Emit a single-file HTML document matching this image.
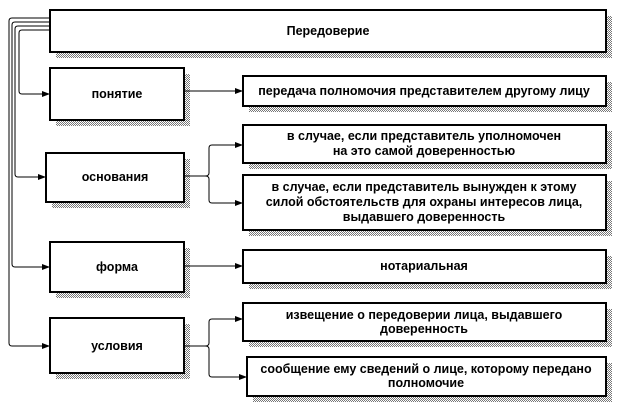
<!DOCTYPE html>
<html><head><meta charset="utf-8"><style>
html,body{margin:0;padding:0;background:#fff;width:624px;height:410px;overflow:hidden}
svg{display:block}
text{font-family:"Liberation Sans",Arial,sans-serif;font-weight:bold;font-size:12.5px;fill:#000;text-anchor:middle}
</style></head><body>
<svg width="624" height="410" viewBox="0 0 624 410" xmlns="http://www.w3.org/2000/svg">
<defs>
<pattern id="h" width="2" height="2" patternUnits="userSpaceOnUse"><rect width="2" height="2" fill="#fff"/><rect width="1" height="1" fill="#777"/><rect x="1" y="1" width="1" height="1" fill="#777"/></pattern>
<marker id="a" markerWidth="8" markerHeight="6" refX="8" refY="3" orient="auto" markerUnits="userSpaceOnUse"><path d="M0,0 L8,3 L0,6z" fill="#000"/></marker>
</defs>
<g fill="url(#h)">
<rect x="56" y="16" width="556" height="42"/>
<rect x="56" y="74" width="134" height="52"/>
<rect x="249" y="82" width="363" height="30"/>
<rect x="52" y="159" width="138" height="49"/>
<rect x="249" y="131" width="363" height="38"/>
<rect x="249" y="181" width="363" height="55"/>
<rect x="56" y="248" width="134" height="50"/>
<rect x="249" y="256" width="363" height="33"/>
<rect x="56" y="324" width="134" height="55"/>
<rect x="249" y="309" width="363" height="38"/>
<rect x="253" y="363" width="359" height="39"/>
</g>
<g fill="#fff" stroke="#000" stroke-width="2">
<rect x="50" y="10" width="556" height="42"/>
<rect x="50" y="68" width="134" height="52"/>
<rect x="243" y="76" width="363" height="30"/>
<rect x="46" y="153" width="138" height="49"/>
<rect x="243" y="125" width="363" height="38"/>
<rect x="243" y="175" width="363" height="55"/>
<rect x="50" y="242" width="134" height="50"/>
<rect x="243" y="250" width="363" height="33"/>
<rect x="50" y="318" width="134" height="55"/>
<rect x="243" y="303" width="363" height="38"/>
<rect x="247" y="357" width="359" height="39"/>
</g>
<g fill="none" stroke="#000" stroke-width="1">
<path d="M50,30 H22 Q19,30 19,33 V91 Q19,94 22,94 H50" marker-end="url(#a)"/>
<path d="M50,26 H18 Q15,26 15,29 V174 Q15,177 18,177 H46" marker-end="url(#a)"/>
<path d="M50,22 H15 Q12,22 12,25 V264 Q12,267 15,267 H50" marker-end="url(#a)"/>
<path d="M50,18 H12 Q9,18 9,21 V343 Q9,346 12,346 H50" marker-end="url(#a)"/>
<path d="M184,91 H243" marker-end="url(#a)"/>
<path d="M184,266 H243" marker-end="url(#a)"/>
<path d="M184,176 H205 M243,145 H212 Q209,145 209,148 V173 Q209,176 205,176 Q209,176 209,179 V200 Q209,203 212,203 H243" />
<path d="M236,145 H243" marker-end="url(#a)"/><path d="M236,203 H243" marker-end="url(#a)"/>
<path d="M184,346 H205 M243,319 H212 Q209,319 209,322 V343 Q209,346 205,346 Q209,346 209,349 V374 Q209,377 212,377 H247" />
<path d="M236,319 H243" marker-end="url(#a)"/><path d="M240,377 H247" marker-end="url(#a)"/>
</g>
<text x="328" y="35">Передоверие</text>
<text x="117" y="98">понятие</text>
<text x="424" y="95">передача полномочия представителем другому лицу</text>
<text x="115" y="181">основания</text>
<text x="424" y="140">в случае, если представитель уполномочен</text>
<text x="424" y="155">на это самой доверенностью</text>
<text x="424" y="191">в случае, если представитель вынужден к этому</text>
<text x="424" y="206">силой обстоятельств для охраны интересов лица,</text>
<text x="424" y="221">выдавшего доверенность</text>
<text x="117" y="271">форма</text>
<text x="424" y="270">нотариальная</text>
<text x="117" y="350">условия</text>
<text x="424" y="319">извещение о передоверии лица, выдавшего</text>
<text x="424" y="333">доверенность</text>
<text x="426" y="373">сообщение ему сведений о лице, которому передано</text>
<text x="426" y="387">полномочие</text>
</svg>
</body></html>
